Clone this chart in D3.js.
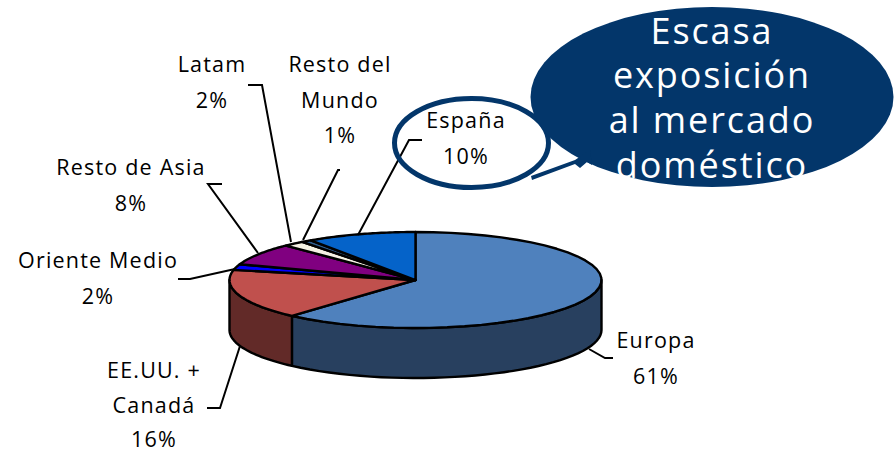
<!DOCTYPE html>
<html><head><meta charset="utf-8">
<script src="https://cdn.jsdelivr.net/npm/d3@7"></script>
<style>html,body{margin:0;background:#fff}svg{display:block}
text{font-family:"Open Sans",sans-serif;font-size:21.5px;letter-spacing:1.2px;fill:#000;text-anchor:middle}
</style></head><body><svg id="c" width="895" height="454"></svg>
<script>
const categories=["Europa","EE.UU. + Canadá","Oriente Medio","Resto de Asia","Latam","Resto del Mundo","España"];
const shares=[61,16,2,8,2,1,10];
const topColors=["#4f81bd","#c0504d","#0000ff","#800080","#f5f2e4","#2f5f8f","#0563c9"];
const sideColors=["#28405f","#622a28"];
const labelLines=[["Europa","61%"],["EE.UU. +","Canadá","16%"],["Oriente Medio","2%"],["Resto de Asia","8%"],["Latam","2%"],["Resto del","Mundo","1%"],["España","10%"]];
const labelPos=[[656,348],[154,378],[98,268],[131,175],[212,72],[340,72],[466,128]];
const labelStep=[35.5,34.6,35.5,35.5,35.5,35.5,35.5];
const elbows=[[[605,358],[613,358]],[[220,408],[207,408]],[[190,279],[178,279]],[[208,184],[222,184]],[[262,85],[248,85]],[[338,170],[340,170]],[[409,140],[422,140]]];
const calloutLines=["Escasa","exposición","al mercado","doméstico"];

const svg=d3.select("#c"), navy="#03366a";
const cx=415.5,cy=280,rx=186,ry=48,depth=50;
const warp=t=>t>Math.PI?t+(5*Math.PI/180)*Math.sin(t)**2:t; // apparent perspective of the 3D pie
const px=(t,limit=Infinity)=>{const w=Math.min(warp(t),limit);return [cx+rx*Math.sin(w),cy-ry*Math.cos(w)]};
const line=d3.line();
const arcPts=(a,b,dy=0,limit)=>d3.range(0,41).map(i=>{const t=a+(b-a)*i/40,p=px(t,limit);return [p[0],p[1]+dy]});
const slices=d3.pie().sort(null).value(d=>d)(shares);

// side wall
const halfPi=Math.PI/2,fullTurn=3*Math.PI/2;
slices.slice(0,2).forEach((s,i)=>{
  const a=Math.max(s.startAngle,halfPi),b=s.endAngle;
  const top=arcPts(a,b,0,fullTurn),bot=arcPts(b,a,depth,fullTurn);
  svg.append("path").attr("d",line(top.concat(bot))+"Z").attr("fill",sideColors[i])
    .attr("stroke","#000").attr("stroke-width",2.4).attr("stroke-linejoin","round");
});
// top faces
slices.forEach((s,i)=>{
  svg.append("path").attr("d",line([[cx,cy],...arcPts(s.startAngle,s.endAngle)])+"Z")
    .attr("fill",topColors[i]).attr("stroke","#000").attr("stroke-width",2.4).attr("stroke-linejoin","round");
});
// leaders
const leaderStart=[[589,349],[240,346],[235,269],[258,253],[291,242],[303,240],[358,235]];
elbows.forEach((e,i)=>{
  svg.append("path").attr("d",line([leaderStart[i],...e])).attr("fill","none").attr("stroke","#000").attr("stroke-width",2);
});
// labels
labelLines.forEach((ls,i)=>{
  const t=svg.append("text");
  ls.forEach((l,j)=>t.append("tspan").attr("x",labelPos[i][0]).attr("y",labelPos[i][1]+j*labelStep[i]).text(l));
});
// highlight oval and callout
svg.append("ellipse").attr("cx",471.5).attr("cy",143).attr("rx",77).attr("ry",44.5).attr("fill","none").attr("stroke",navy).attr("stroke-width",5);
svg.append("ellipse").attr("cx",712).attr("cy",97).attr("rx",181.5).attr("ry",90).attr("fill",navy);
svg.append("path").attr("d",line([[531,176],[575,160],[590,150],[592,165],[587,162],[580,168],[575,164],[532,180]])+"Z").attr("fill",navy);
const ct=svg.append("text").style("font-size","36px").style("letter-spacing","1.9px");
calloutLines.forEach((l,j)=>ct.append("tspan").attr("x",712).attr("y",43.5+j*44.7).style("fill","#fff").text(l));
</script></body></html>
